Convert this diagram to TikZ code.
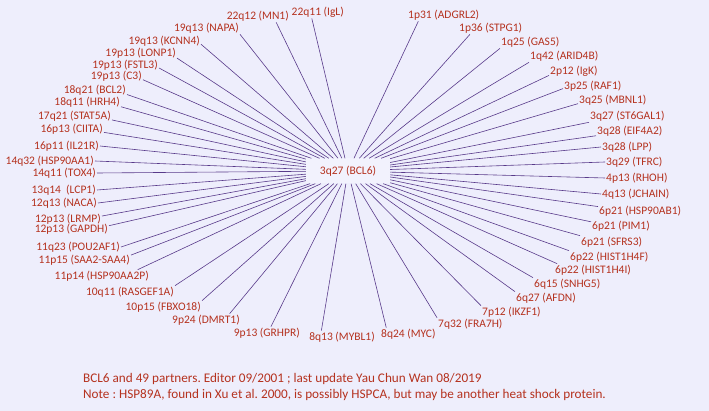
\documentclass[tikz,border=0pt]{standalone}
\usepackage{fontspec}
\setmainfont{Carlito}
\frenchspacing
\definecolor{bgpurple}{HTML}{EEEEFC}
\definecolor{boxpurple}{HTML}{F2F2FD}
\definecolor{partnerred}{HTML}{B5321F}
\definecolor{linkpurple}{HTML}{583A8A}
\newcommand{\PartnerFont}{\fontsize{11.5}{13}\selectfont}
\newcommand{\FooterFont}{\fontsize{13.2}{15}\selectfont}
\tikzset{
  partner/.style={text=partnerred, inner sep=1pt, font=\PartnerFont},
  link/.style={draw=linkpurple, line width=0.6pt},
  centre/.style={partner, fill=boxpurple, minimum width=84pt, minimum height=25pt},
  footnote/.style={partner, font=\FooterFont, anchor=west},
}
\begin{document}
\begin{tikzpicture}[x=1pt,y=-1pt]
    \fill[bgpurple] (0,0) rectangle (709,411);
    \node[centre] (bcl6) at (348,171) {3q27 (BCL6)};
    %
    \node[partner,anchor=east] (mn1) at (290,16) {22q12 (MN1)}; \draw[link] (bcl6) -- (mn1.-19);
    \node[partner,anchor=east] (igl) at (345,12) {22q11 (IgL)}; \draw[link] (bcl6) -- (igl.-133);
    \node[partner,anchor=east] (napa) at (240,28) {19q13 (NAPA)}; \draw[link] (bcl6) -- (napa.south east);
    \node[partner,anchor=east] (kcnn4) at (201,41) {19q13 (KCNN4)}; \draw[link] (bcl6) -- (kcnn4.-5);
    \node[partner,anchor=east] (lonp1) at (177,53) {19p13 (LONP1)}; \draw[link] (bcl6) -- (lonp1.-8);
    \node[partner,anchor=east] (fstl3) at (159,65) {19p13 (FSTL3)}; \draw[link] (bcl6) -- (fstl3.-5);
    \node[partner,anchor=east] (c3) at (143,76) {19p13 (C3)}; \draw[link] (bcl6) -- (c3.-8);
    \node[partner,anchor=east] (bcl2) at (127,90) {18q21 (BCL2)}; \draw[link] (bcl6) -- (bcl2.-8);
    \node[partner,anchor=east] (hrh4) at (121,102) {18q11 (HRH4)}; \draw[link] (bcl6) -- (hrh4.-8);
    \node[partner,anchor=east] (stat5a) at (112,116) {17q21 (STAT5A)}; \draw[link] (bcl6) -- (stat5a.-6);
    \node[partner,anchor=east] (ciita) at (104,129) {16p13 (CIITA)}; \draw[link] (bcl6) -- (ciita.-6);
    \node[partner,anchor=east] (il21r) at (100,146) {16p11 (IL21R)}; \draw[link] (bcl6) -- (il21r.east);
    \node[partner,anchor=east] (hsp90aa1) at (95,161) {14q32 (HSP90AA1)}; \draw[link] (bcl6) -- (hsp90aa1.east);
    \node[partner,anchor=east] (tox4) at (97,173) {14q11 (TOX4)}; \draw[link] (bcl6) -- (tox4.east);
    \node[partner,anchor=east] (lcp1) at (97,190) {13q14\ \ (LCP1)}; \draw[link] (bcl6) -- (lcp1.east);
    \node[partner,anchor=east] (naca) at (98,203) {12q13 (NACA)}; \draw[link] (bcl6) -- (naca.east);
    \node[partner,anchor=east] (lrmp) at (102,219) {12p13 (LRMP)}; \draw[link] (bcl6) -- (lrmp.5);
    \node[partner,anchor=east] (gapdh) at (109,229) {12p13 (GAPDH)}; \draw[link] (bcl6) -- (gapdh.5);
    \node[partner,anchor=east] (pou2af1) at (121,247) {11q23 (POU2AF1)}; \draw[link] (bcl6) -- (pou2af1.east);
    \node[partner,anchor=east] (saa) at (131,260) {11p15 (SAA2-SAA4)}; \draw[link] (bcl6) -- (saa.6);
    \node[partner,anchor=east] (hsp90aa2p) at (150,276) {11p14 (HSP90AA2P)}; \draw[link] (bcl6) -- (hsp90aa2p.10);
    \node[partner,anchor=east] (rasgef1a) at (175,292) {10q11 (RASGEF1A)}; \draw[link] (bcl6) -- (rasgef1a.north east);
    \node[partner,anchor=east] (fbxo18) at (202,307) {10p15 (FBXO18)}; \draw[link] (bcl6) -- (fbxo18.north east);
    \node[partner,anchor=east] (dmrt1) at (241,320) {9p24 (DMRT1)}; \draw[link] (bcl6) -- (dmrt1.15);
    \node[partner,anchor=east] (grhpr) at (301,333) {9p13 (GRHPR)}; \draw[link] (bcl6) -- (grhpr.57);
    \node[partner,anchor=east] (mybl1) at (376,337) {8q13 (MYBL1)}; \draw[link] (bcl6) -- (mybl1.163);
    %
    \node[partner,anchor=west] (myc) at (380,334) {8q24 (MYC)}; \draw[link] (bcl6) -- (myc.164);
    \node[partner,anchor=west] (fra7h) at (437,324) {7q32 (FRA7H)}; \draw[link] (bcl6) -- (fra7h.north west);
    \node[partner,anchor=west] (ikzf1) at (481,312) {7p12 (IKZF1)}; \draw[link] (bcl6) -- (ikzf1.north west);
    \node[partner,anchor=west] (afdn) at (515,298) {6q27 (AFDN)}; \draw[link] (bcl6) -- (afdn.north west);
    \node[partner,anchor=west] (snhg5) at (533,284) {6q15 (SNHG5)}; \draw[link] (bcl6) -- (snhg5.north west);
    \node[partner,anchor=west] (hist1h4i) at (554,270) {6p22 (HIST1H4I)}; \draw[link] (bcl6) -- (hist1h4i.170);
    \node[partner,anchor=west] (hist1h4f) at (569,257) {6p22 (HIST1H4F)}; \draw[link] (bcl6) -- (hist1h4f.north west);
    \node[partner,anchor=west] (sfrs3) at (580,242) {6p21 (SFRS3)}; \draw[link] (bcl6) -- (sfrs3.north west);
    \node[partner,anchor=west] (pim1) at (591,226) {6p21 (PIM1)}; \draw[link] (bcl6) -- (pim1.172);
    \node[partner,anchor=west] (hsp90ab1) at (598,211) {6p21 (HSP90AB1)}; \draw[link] (bcl6) -- (hsp90ab1.174);
    \node[partner,anchor=west] (jchain) at (601,194) {4q13 (JCHAIN)}; \draw[link] (bcl6) -- (jchain.west);
    \node[partner,anchor=west] (rhoh) at (605,178) {4p13 (RHOH)}; \draw[link] (bcl6) -- (rhoh.west);
    \node[partner,anchor=west] (tfrc) at (605,162) {3q29 (TFRC)}; \draw[link] (bcl6) -- (tfrc.west);
    \node[partner,anchor=west] (lpp) at (601,147) {3q28 (LPP)}; \draw[link] (bcl6) -- (lpp.west);
    \node[partner,anchor=west] (eif4a2) at (596,131) {3q28 (EIF4A2)}; \draw[link] (bcl6) -- (eif4a2.-172);
    \node[partner,anchor=west] (st6gal1) at (589,116) {3q27 (ST6GAL1)}; \draw[link] (bcl6) -- (st6gal1.south west);
    \node[partner,anchor=west] (mbnl1) at (578,100) {3q25 (MBNL1)}; \draw[link] (bcl6) -- (mbnl1.-174);
    \node[partner,anchor=west] (raf1) at (563,86) {3p25 (RAF1)}; \draw[link] (bcl6) -- (raf1.-175);
    \node[partner,anchor=west] (igk) at (549,71) {2p12 (IgK)}; \draw[link] (bcl6) -- (igk.-170);
    \node[partner,anchor=west] (arid4b) at (529,56) {1q42 (ARID4B)}; \draw[link] (bcl6) -- (arid4b.south west);
    \node[partner,anchor=west] (gas5) at (500,42) {1q25 (GAS5)}; \draw[link] (bcl6) -- (gas5.south west);
    \node[partner,anchor=west] (stpg1) at (458,28) {1p36 (STPG1)}; \draw[link] (bcl6) -- (stpg1.-163);
    \node[partner,anchor=west] (adgrl2) at (407,15) {1p31 (ADGRL2)}; \draw[link] (bcl6) -- (adgrl2.-166);
    %
    \node[footnote] (footer) at (82,379) {BCL6 and 49 partners. Editor 09/2001 ; last update Yau Chun Wan 08/2019};
    \node[footnote] (note) at (82,395) {Note : HSP89A, found in Xu et al. 2000, is possibly HSPCA, but may be another heat shock protein.};
\end{tikzpicture}
\end{document}
